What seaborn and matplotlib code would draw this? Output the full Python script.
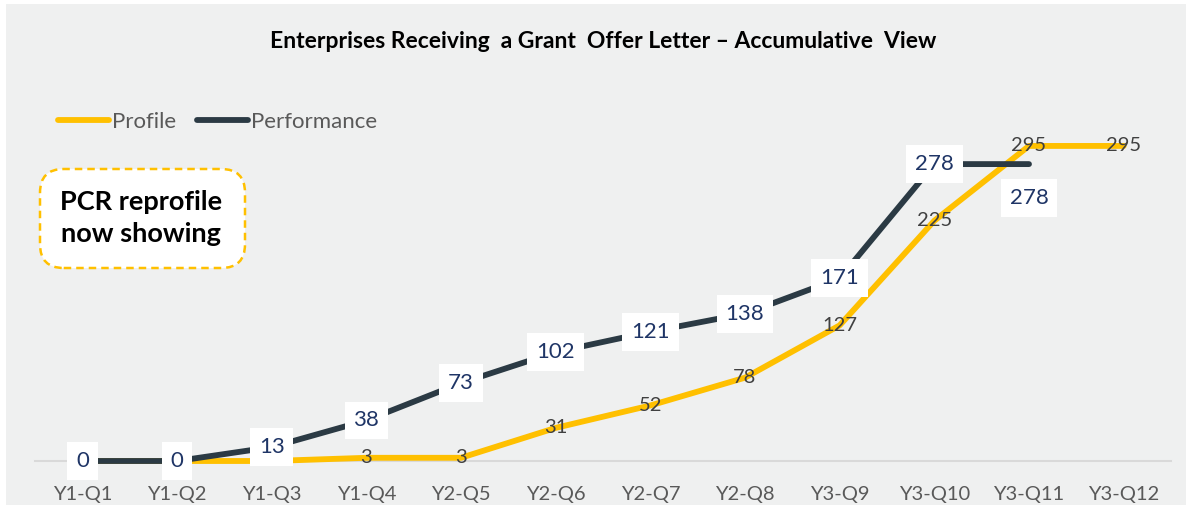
import matplotlib
matplotlib.use("Agg")
import matplotlib.pyplot as plt
import seaborn as sns
import numpy as np
import pandas as pd
from matplotlib.patches import FancyBboxPatch, Rectangle
from matplotlib.lines import Line2D

quarters = ["Y1-Q1", "Y1-Q2", "Y1-Q3", "Y1-Q4", "Y2-Q5", "Y2-Q6",
            "Y2-Q7", "Y2-Q8", "Y3-Q9", "Y3-Q10", "Y3-Q11", "Y3-Q12"]
profile = [0, 0, 0, 3, 3, 31, 52, 78, 127, 225, 295, 295]
performance = [0, 0, 13, 38, 73, 102, 121, 138, 171, 278, 278, np.nan]

title = "Enterprises Receiving  a Grant  Offer Letter \u2013 Accumulative  View"
callout = "PCR reprofile\nnow showing"

sns.set_theme(style="white")
plt.rcParams['font.family'] = ['Lato', 'DejaVu Sans']

BG = "#EFF0F0"
YEL = "#FFC000"
DARK = "#2B3A44"
NAVY = "#1F3566"

W, H = 1186, 505
fig = plt.figure(figsize=(W / 100, H / 100), dpi=100)
fig.patch.set_facecolor("white")
fig.patches.append(Rectangle((6 / W, 0), 1 - 6 / W, 1 - 4 / H, transform=fig.transFigure,
                             facecolor=BG, edgecolor="none", zorder=-10))

ymax = 330
ax_left, ax_right = 35 / W, 1171 / W
ax_bottom = (H - 461) / H
ax_height = ymax * 1.068 / H
ax = fig.add_axes([ax_left, ax_bottom, ax_right - ax_left, ax_height])
ax.set_facecolor("none")

df = pd.DataFrame({"Quarter": quarters * 2,
                   "Value": profile + performance,
                   "Series": ["Profile"] * 12 + ["Performance"] * 12})
df["x"] = list(range(12)) * 2

sns.lineplot(data=df[df.Series == "Profile"], x="x", y="Value", color=YEL, lw=4.2,
             ax=ax, legend=False, solid_capstyle="round", zorder=2)
sns.lineplot(data=df[df.Series == "Performance"], x="x", y="Value", color=DARK, lw=4.2,
             ax=ax, legend=False, solid_capstyle="round", zorder=3)
for l in ax.lines:
    l.set_clip_on(False)

ax.set_xlim(-0.5, 11.5)
ax.set_ylim(0, ymax)
ax.set_xticks(range(12))
ax.set_xticklabels(quarters, fontsize=14.5, color="#595959")
ax.tick_params(axis="x", length=0, pad=18)
ax.set_yticks([])
ax.set_xlabel("")
ax.set_ylabel("")
for s in ["top", "right", "left"]:
    ax.spines[s].set_visible(False)
ax.spines["bottom"].set_color("#D9D9D9")
ax.spines["bottom"].set_linewidth(1.5)
ax.spines["bottom"].set_zorder(1)

# Profile labels
for i, v in enumerate(profile):
    ax.text(i, v, str(v), ha="center", va="center", fontsize=14.5, color="#404040", zorder=4)

# Performance labels in white boxes
for i, v in enumerate(performance):
    if np.isnan(v):
        continue
    off = -34 if i == 10 else 0
    ax.annotate(str(int(v)), (i, v), xytext=(0, off), textcoords="offset pixels",
                ha="center", va="center", fontsize=16, color=NAVY, zorder=5,
                bbox=dict(boxstyle="square,pad=0.4", fc="white", ec="none"))

# Title
fig.text(603 / W, 1 - 41 / H, title, ha="center", va="center", fontsize=16.5,
         fontweight="bold", color="black")

# Legend
handles = [Line2D([0], [0], color=YEL, lw=4.2, solid_capstyle="round"),
           Line2D([0], [0], color=DARK, lw=4.2, solid_capstyle="round")]
leg = fig.legend(handles, ["Profile", "Performance"], loc="center left",
                 bbox_to_anchor=(58 / W, 1 - 122 / H), ncol=2, frameon=False,
                 borderaxespad=0, borderpad=0,
                 fontsize=16, handlelength=2.3, handletextpad=0.15, columnspacing=0.9)
for t in leg.get_texts():
    t.set_color("#595959")

# Callout box
box = FancyBboxPatch((40 / W, 1 - 268 / H), 205 / W, 99 / H,
                     boxstyle="round,pad=0,rounding_size=0.02",
                     transform=fig.transFigure, facecolor="white", edgecolor=YEL,
                     lw=1.8, linestyle=(0, (3, 2)), mutation_aspect=W / H)
fig.patches.append(box)
fig.text(141 / W, 1 - 218 / H, callout, ha="center", va="center", fontsize=19.5,
         fontweight="bold", color="black", linespacing=1.4)

fig.savefig("out.png", dpi=100, facecolor=fig.get_facecolor())
